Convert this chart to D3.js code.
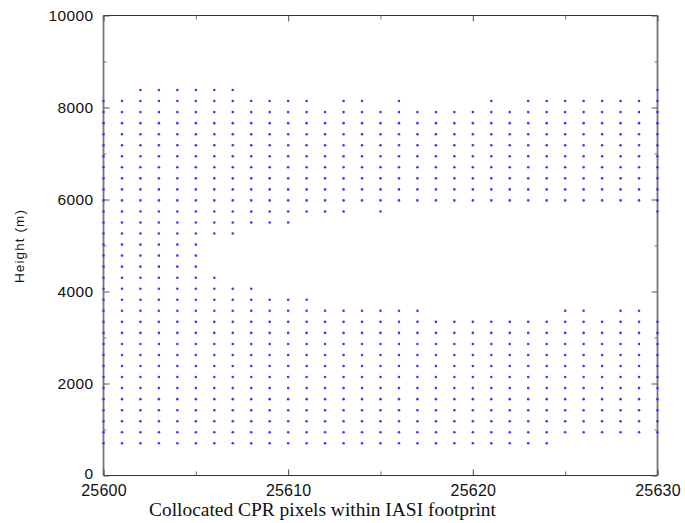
<!DOCTYPE html>
<html>
<head>
<meta charset="utf-8">
<script src="https://cdn.jsdelivr.net/npm/d3@7/dist/d3.min.js"></script>
<style>
  html, body { margin: 0; padding: 0; background: #fff; }
  svg { display: block; }
  .tick text { font-family: "Liberation Sans", Arial, sans-serif; fill: #111; }
  .y-labels .tick text { font-size: 15.5px; letter-spacing: 0.4px; }
  .x-labels .tick text { font-size: 16px; letter-spacing: 0.2px; }
</style>
</head>
<body>
<svg id="chart" width="685" height="523"></svg>
<script>
// CPR profile index (x) of each collocated pixel
const pixelIds = [25600, 25601, 25602, 25603, 25604, 25605, 25606, 25607, 25608, 25609,
                  25610, 25611, 25612, 25613, 25614, 25615, 25616, 25617, 25618, 25619,
                  25620, 25621, 25622, 25623, 25624, 25625, 25626, 25627, 25628, 25629, 25630];

// Vertical range-bin heights (m)
const binHeights = [700, 940, 1180, 1420, 1660, 1900, 2140, 2380, 2620, 2860, 3100,
                    3340, 3580, 3820, 4060, 4300, 4540, 4780, 5020, 5260, 5500,
                    5740, 5980, 6220, 6460, 6700, 6940, 7180, 7420, 7660, 7900, 8140, 8380];

// Lower layer of bins per profile (bottom and top height, m)
const lowBase = [700, 700, 700, 700, 700, 700, 700, 700, 700, 700, 700, 700, 700, 700, 700, 700,
                 700, 700, 700, 700, 700, 700, 700, 700, 700, 940, 940, 940, 940, 940, 940];
const lowTop  = [8140, 8140, 8380, 8380, 8380, 8380, 4300, 4060, 4060, 3820, 3820, 3820, 3580, 3580,
                 3580, 3580, 3580, 3580, 3340, 3340, 3340, 3340, 3340, 3340, 3340, 3580, 3580, 3340,
                 3580, 3580, 3340];

// Upper layer of bins per profile (null where the profile has no gap)
const highBase = [null, null, null, null, null, null, 5260, 5260, 5500, 5500, 5500, 5740, 5740, 5740,
                  5980, 5740, 5980, 5980, 5980, 5980, 5980, 5980, 5980, 5980, 5980, 5980, 5980, 5980,
                  5980, 5980, 5740];
const highTop  = [null, null, null, null, null, null, 8380, 8380, 8140, 8140, 8140, 8140, 7900, 8140,
                  8140, 7900, 8140, 7900, 7900, 7900, 7900, 8140, 7900, 8140, 8140, 8140, 8140, 8140,
                  8140, 8140, 8380];

// Axis ticks
const xTicks = [25600, 25610, 25620, 25630];
const xMinorTicks = [25605, 25615, 25625];
const yTicks = [0, 2000, 4000, 6000, 8000, 10000];
const yMinorTicks = [1000, 3000, 5000, 7000, 9000];

const xLabel = "Collocated CPR pixels within IASI footprint";
const yLabel = "Height (m)";

(function draw() {
  // Plot frame
  const pLeft = 103.5, pRight = 657.5, pTop = 15.5, pBottom = 475.5;

  const svg = d3.select("#chart");
  svg.append("rect").attr("width", 685).attr("height", 523).attr("fill", "#fff");

  const x = d3.scaleLinear().domain([25600, 25630]).range([pLeft, pRight]);
  const y = d3.scaleLinear().domain([0, 10000]).range([pBottom, pTop]);

  // Expand each profile into its occupied bins
  const points = [];
  pixelIds.forEach((id, i) => {
    binHeights.forEach(h => {
      const inLow = h >= lowBase[i] && h <= lowTop[i];
      const inHigh = highBase[i] !== null && h >= highBase[i] && h <= highTop[i];
      if (inLow || inHigh) points.push({ id, h });
    });
  });

  // Frame box
  const frame = svg.append("g").attr("fill", "none");
  frame.append("line").attr("x1", pLeft).attr("x2", pRight).attr("y1", pTop).attr("y2", pTop)
    .attr("stroke", "#333").attr("stroke-width", 1);
  frame.append("line").attr("x1", pLeft).attr("x2", pRight).attr("y1", pBottom).attr("y2", pBottom)
    .attr("stroke", "#333").attr("stroke-width", 1);
  frame.append("line").attr("x1", pLeft).attr("x2", pLeft).attr("y1", pTop).attr("y2", pBottom)
    .attr("stroke", "#777").attr("stroke-width", 1.8);
  frame.append("line").attr("x1", pRight).attr("x2", pRight).attr("y1", pTop).attr("y2", pBottom)
    .attr("stroke", "#777").attr("stroke-width", 1.8);

  function styleAxis(g, color) {
    g.select(".domain").remove();
    g.selectAll(".tick line").attr("stroke", color || "#444");
  }

  // Left axis with labels, inward ticks
  svg.append("g").attr("class", "y-labels").attr("transform", `translate(${pLeft},0)`)
    .call(d3.axisLeft(y).tickValues(yTicks).tickSize(-6).tickPadding(10).tickFormat(d3.format("d")))
    .call(g => styleAxis(g, "#555"))
    .call(g => g.selectAll(".tick text").filter(d => d === 0).attr("dy", "0.2em"));
  svg.append("g").attr("transform", `translate(${pLeft},0)`)
    .call(d3.axisLeft(y).tickValues(yMinorTicks).tickSize(-3).tickFormat(""))
    .call(g => styleAxis(g, "#777"));

  // Right axis, ticks only
  svg.append("g").attr("transform", `translate(${pRight},0)`)
    .call(d3.axisRight(y).tickValues(yTicks).tickSize(-6).tickFormat(""))
    .call(g => styleAxis(g, "#555"));
  svg.append("g").attr("transform", `translate(${pRight},0)`)
    .call(d3.axisRight(y).tickValues(yMinorTicks).tickSize(-3).tickFormat(""))
    .call(g => styleAxis(g, "#777"));

  // Bottom axis with labels
  svg.append("g").attr("class", "x-labels").attr("transform", `translate(0,${pBottom})`)
    .call(d3.axisBottom(x).tickValues(xTicks).tickSize(-6).tickPadding(9).tickFormat(d3.format("d")))
    .call(g => styleAxis(g, "#444"));
  svg.append("g").attr("transform", `translate(0,${pBottom})`)
    .call(d3.axisBottom(x).tickValues(xMinorTicks).tickSize(-4).tickFormat(""))
    .call(g => styleAxis(g, "#666"));

  // Top axis, ticks only
  svg.append("g").attr("transform", `translate(0,${pTop})`)
    .call(d3.axisTop(x).tickValues(xTicks).tickSize(-6).tickFormat(""))
    .call(g => styleAxis(g, "#555"));
  svg.append("g").attr("transform", `translate(0,${pTop})`)
    .call(d3.axisTop(x).tickValues(xMinorTicks).tickSize(-4).tickFormat(""))
    .call(g => styleAxis(g, "#777"));

  // Bin markers
  svg.append("g").selectAll("circle").data(points).join("circle")
    .attr("cx", d => x(d.id))
    .attr("cy", d => y(d.h))
    .attr("r", 1.3)
    .attr("fill", "#3a3af2");

  // Axis titles
  svg.append("text")
    .attr("x", 149).attr("y", 516)
    .attr("font-family", "'Liberation Serif', 'Times New Roman', serif")
    .attr("font-size", 18)
    .attr("fill", "#111")
    .attr("textLength", 347)
    .attr("lengthAdjust", "spacingAndGlyphs")
    .text(xLabel);

  svg.append("text")
    .attr("transform", "translate(24,246) rotate(-90)")
    .attr("text-anchor", "middle")
    .attr("font-family", "'Liberation Sans', Arial, sans-serif")
    .attr("font-size", 13.5)
    .attr("letter-spacing", 1.1)
    .attr("fill", "#111")
    .text(yLabel);
})();
</script>
</body>
</html>
